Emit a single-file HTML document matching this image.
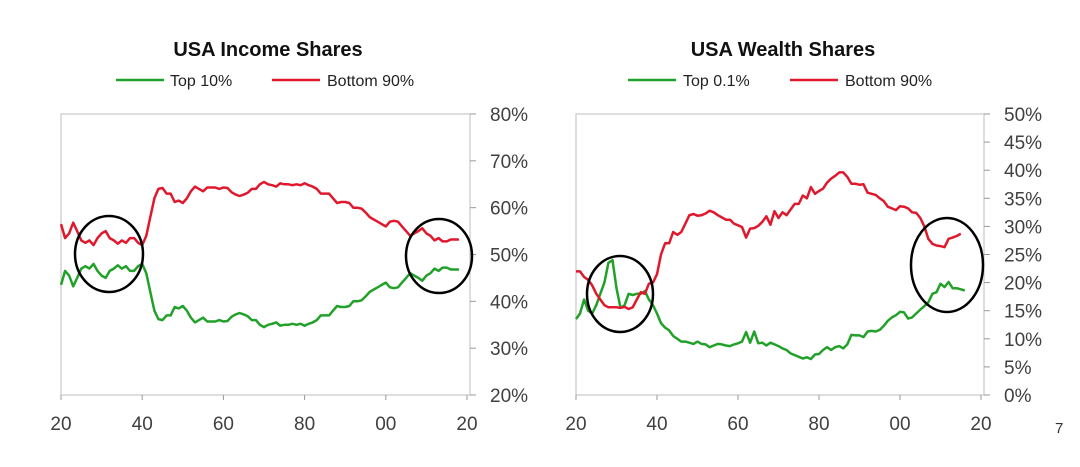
<!DOCTYPE html>
<html><head><meta charset="utf-8"><style>
body{margin:0;background:#fff;width:1080px;height:462px;overflow:hidden;font-family:"Liberation Sans",sans-serif}
</style></head><body>
<svg id="s" width="1080" height="462" xmlns="http://www.w3.org/2000/svg" font-family="Liberation Sans, sans-serif">
<text x="268" y="56" font-size="20" font-weight="bold" text-anchor="middle" fill="#111">USA Income Shares</text>
<line x1="116" y1="80" x2="164" y2="80" stroke="#22a12a" stroke-width="2.5"/><text x="170" y="86" font-size="16" fill="#222">Top 10%</text>
<line x1="272" y1="80" x2="320" y2="80" stroke="#e0182d" stroke-width="2.5"/><text x="327" y="86" font-size="16" fill="#222">Bottom 90%</text>
<text x="783" y="56" font-size="20" font-weight="bold" text-anchor="middle" fill="#111">USA Wealth Shares</text>
<line x1="628" y1="80" x2="676" y2="80" stroke="#22a12a" stroke-width="2.5"/><text x="683" y="86" font-size="16" fill="#222">Top 0.1%</text>
<line x1="790" y1="80" x2="838" y2="80" stroke="#e0182d" stroke-width="2.5"/><text x="845" y="86" font-size="16" fill="#222">Bottom 90%</text>
<text x="1055" y="433" font-size="15" fill="#333">7</text>
<g id="g"></g>
</svg>
<script>
var g=document.getElementById('g'),h='';
function ch(x0,x1,yt,yb,vmin,vmax,step,fmt,series,circles){
 h+='<rect x="'+x0+'" y="'+yt+'" width="'+(x1-x0)+'" height="'+(yb-yt)+'" fill="none" stroke="#c8c8c8" stroke-width="1.2"/>';
 var n=(vmax-vmin)/step;
 for(var i=0;i<=n;i++){var y=yb-(yb-yt)*i/n;h+='<line x1="'+x1+'" y1="'+y+'" x2="'+(x1+6)+'" y2="'+y+'" stroke="#999"/>';
  h+='<text x="'+(x1+20)+'" y="'+(y+7)+'" font-size="19" fill="#404040">'+fmt(vmin+i*step)+'</text>';}
 var px=(x1-x0-3)/100;
 var lb=['20','40','60','80','00','20'];
 for(var i=0;i<6;i++){var x=x0+i*20*px;h+='<line x1="'+x+'" y1="'+yb+'" x2="'+x+'" y2="'+(yb+5)+'" stroke="#999"/>';
  h+='<text x="'+x+'" y="'+(yb+35)+'" font-size="19" fill="#404040" text-anchor="middle">'+lb[i]+'</text>';}
 series.forEach(function(s){var p=s[1].map(function(v,j){return (x0+j*px).toFixed(1)+','+(yb-(v-vmin)/(vmax-vmin)*(yb-yt)).toFixed(1)}).join(' ');
  h+='<polyline points="'+p+'" fill="none" stroke="'+s[0]+'" stroke-width="2.5" stroke-linejoin="round"/>';});
 circles.forEach(function(c){h+='<ellipse cx="'+c[0]+'" cy="'+c[1]+'" rx="'+c[2]+'" ry="'+c[3]+'" fill="none" stroke="#000" stroke-width="2.5"/>';});
}
var lr=[56.5,53.5,54.5,56.8,55,53,52.5,53,52,53.5,54.5,55,53.5,53,52.3,53,52.5,53.5,53.5,52.5,52,54,58,62,64,64.2,63,63,61.2,61.5,61,62,63.5,64.5,64,63.5,64.3,64.3,64.3,64,64.3,64.2,63.3,62.8,62.5,62.8,63.2,64,64,65,65.5,65,64.8,64.5,65.2,65,65,64.8,65,64.8,65.2,64.8,64.5,64,63,63,63,62,61,61.2,61.2,61,60,60,59.8,59,58,57.5,57,56.5,56,57,57.2,57,56,55,54,54.5,55,55.6,54.5,54,53,53.5,52.8,52.8,53.2,53.2,53.2];
var lg=[43.5,46.5,45.5,43.2,45,47,47.5,47,48,46.5,45.5,45,46.5,47,47.7,47,47.5,46.5,46.5,47.5,48,46,42,38,36.2,36,37,37,38.8,38.5,39,38,36.5,35.5,36,36.5,35.7,35.7,35.7,36,35.7,35.8,36.7,37.2,37.5,37.2,36.8,36,36,35,34.5,35,35.2,35.5,34.8,35,35,35.2,35,35.2,34.8,35.2,35.5,36,37,37,37,38,39,38.8,38.8,39,40,40,40.2,41,42,42.5,43,43.5,44,43,42.8,43,44,45,46,45.5,45,44.4,45.5,46,47,46.5,47.2,47.2,46.8,46.8,46.8];
var rg=[13.5,14.5,17,15,14.5,16,18,20,23.5,24,19,15.5,16,18,17.8,18,18,18.5,17,16,14.5,12.8,12,11.5,10.5,10,9.5,9.5,9.3,9.1,9.5,9.1,9,8.5,8.8,9.1,9,8.8,8.7,9,9.2,9.5,11.2,9.3,11.3,9.2,9.3,8.8,9.3,9,8.7,8.3,8,7.4,7.1,6.8,6.5,6.7,6.4,7.2,7.3,8,8.5,8,8.5,8.7,8.3,9,10.7,10.6,10.6,10.3,11.3,11.4,11.3,11.6,12.3,13.2,13.8,14.2,14.8,14.7,13.6,13.8,14.5,15.2,15.8,16.5,18,18.3,19.8,19.2,20.1,19,19,18.8,18.6];
var rr=[22,22,21,20.5,19.5,18,17,16,15.6,15.6,15.6,15.5,15.7,15.3,15.6,17,18.3,18,19.8,20,21.5,25,27,27,29,28.5,29,30.5,32,32.2,31.9,32,32.3,32.8,32.5,32,31.6,31.2,31.2,30.5,30.2,29.9,28,29.6,29.7,30.1,30.8,31.8,30.3,32.7,31.5,32.5,32,33,34,34,35.5,35,37,35.8,36.3,36.7,37.8,38.5,39,39.6,39.6,38.8,37.6,37.6,37.4,37.5,36,35.8,35.6,35,34.5,33.5,33.2,32.9,33.6,33.5,33.2,32.5,32.4,31.5,30,27.8,26.9,26.6,26.5,26.3,27.8,28,28.3,28.7];
ch(61,470,114,395,20,80,10,function(v){return v+'%'},[['#22a12a',lg],['#e0182d',lr]],[[109,254,34,38],[439,256,33,37]]);
ch(576,984,114,395,0,50,5,function(v){return v+'%'},[['#22a12a',rg],['#e0182d',rr]],[[620,294,33,38],[947,265,36,47]]);
g.innerHTML=h;
</script>
</body></html>
